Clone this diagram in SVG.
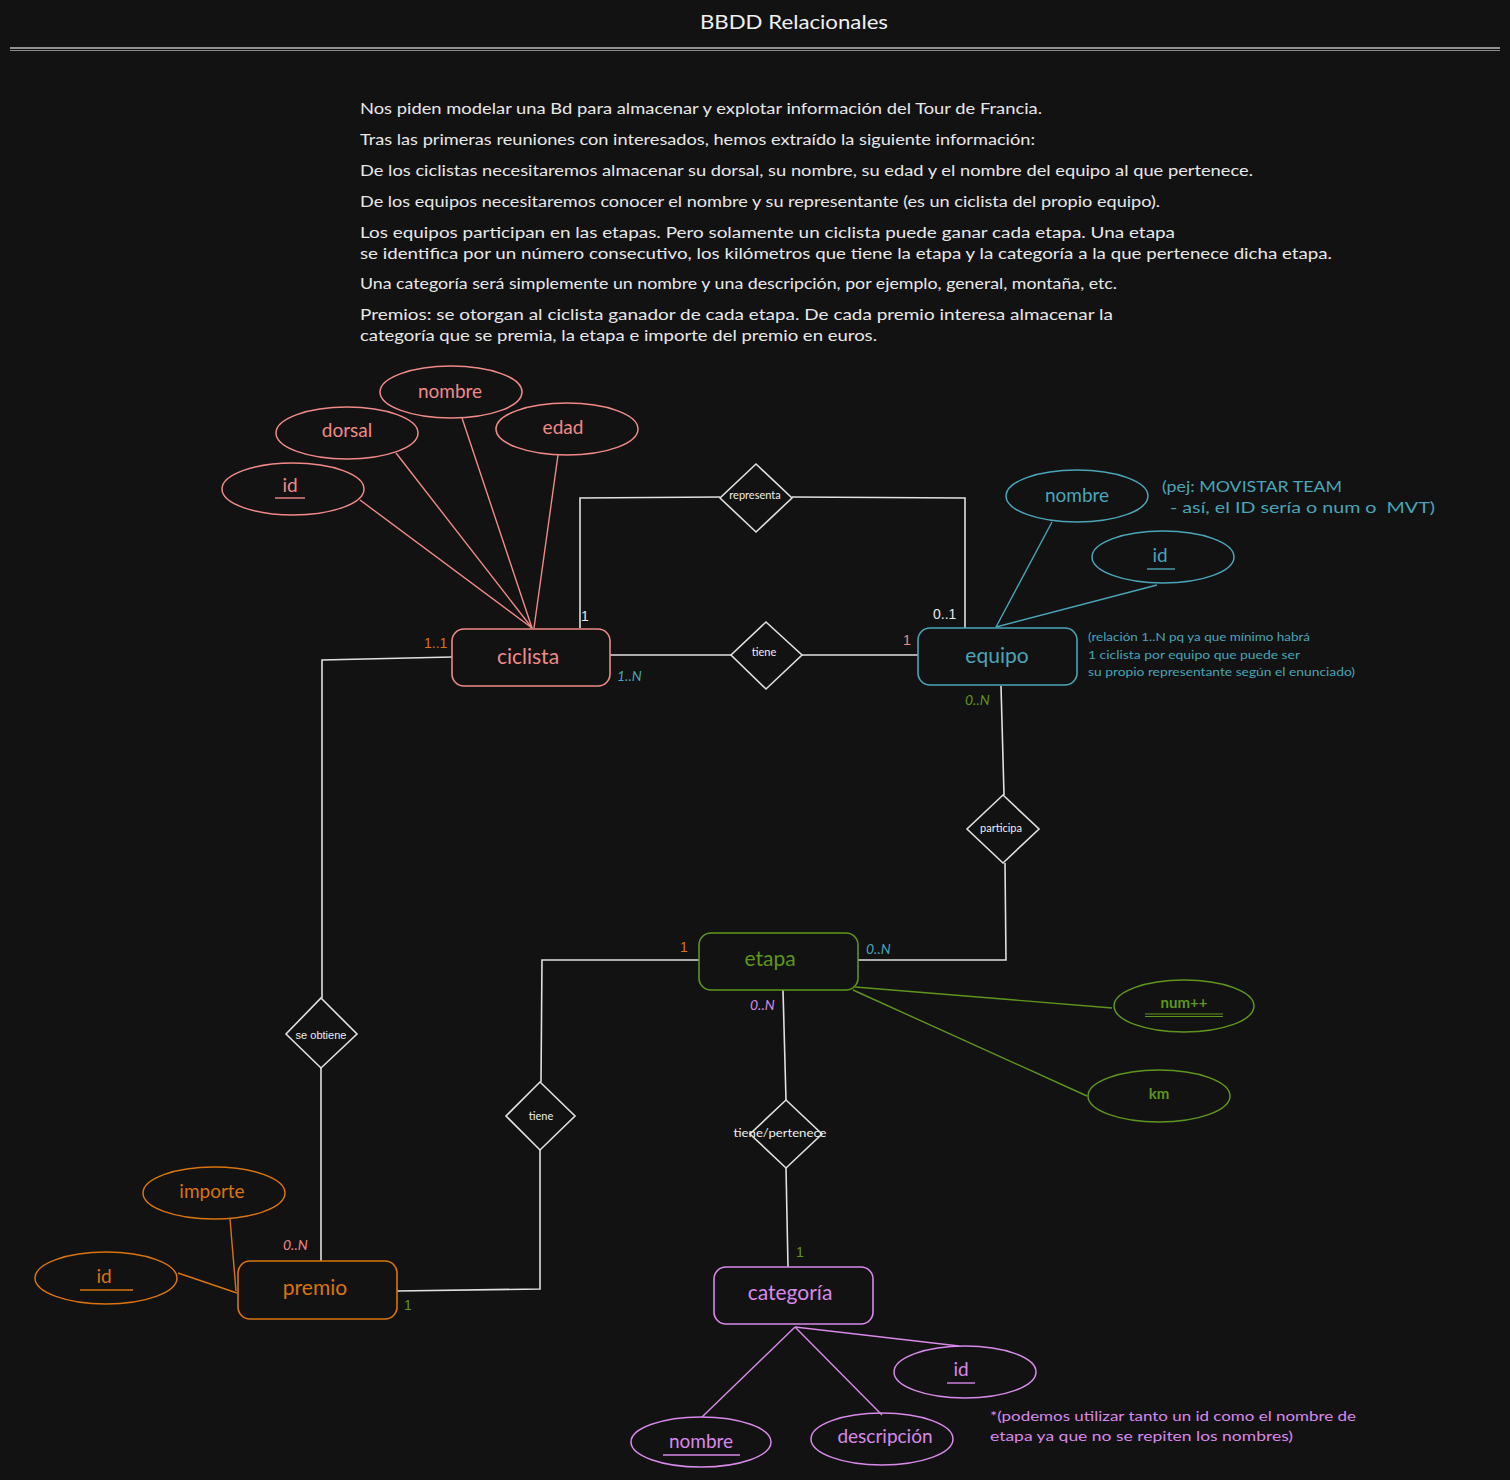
<svg xmlns="http://www.w3.org/2000/svg" width="1510" height="1480" viewBox="0 0 1510 1480">
  <style>
    .hand { font-family: Lato, "Liberation Sans", sans-serif; }
    .plain { font-family: "Liberation Sans", Arial, sans-serif; }
    .desc { font-family: Lato, "Liberation Sans", sans-serif; font-size: 15px; fill: #e8e8e8; }
    .ent { fill: none; stroke-width: 1.6; }
    .attr { fill: none; stroke-width: 1.5; }
    .rel { fill: #121212; stroke: #e0e0e0; stroke-width: 1.6; }
    .rel-t { font-size: 11px; fill: #eeeeee; text-anchor: middle; }
    .ent-t { font-size: 21px; text-anchor: middle; }
    .attr-t { font-size: 19px; text-anchor: middle; }
    .conn { fill: none; stroke: #e0e0e0; stroke-width: 1.6; }
    .card { font-size: 14px; }
    .red { stroke: #f08a87; fill: none; }
    .redf { fill: #f08a87; }
    .teal { stroke: #4aa5b8; fill: none; }
    .tealf { fill: #4aa5b8; }
    .green { stroke: #5e961d; fill: none; }
    .greenf { fill: #5e961d; }
    .orange { stroke: #d97410; fill: none; }
    .orangef { fill: #d97410; }
    .purple { stroke: #d889ea; fill: none; }
    .purplef { fill: #d889ea; }
  </style>

  <rect x="0" y="0" width="1510" height="1480" fill="#121212"/>

  <!-- heading -->
  <g id="title">
    <text class="hand" x="794" y="29" font-size="20" fill="#f0f0f0" text-anchor="middle" textLength="188" lengthAdjust="spacingAndGlyphs">BBDD Relacionales</text>
    <line x1="10" y1="48" x2="1500" y2="48" stroke="#bdbdbd" stroke-width="1.3"/>
    <line x1="10" y1="50.5" x2="1500" y2="50.5" stroke="#8a8a8a" stroke-width="1"/>
  </g>

  <!-- statement of the problem -->
  <g id="enunciado" class="desc">
    <text x="360" y="114" textLength="682" lengthAdjust="spacingAndGlyphs">Nos piden modelar una Bd para almacenar y explotar información del Tour de Francia.</text>
    <text x="360" y="145" textLength="675" lengthAdjust="spacingAndGlyphs">Tras las primeras reuniones con interesados, hemos extraído la siguiente información:</text>
    <text x="360" y="176" textLength="893" lengthAdjust="spacingAndGlyphs">De los ciclistas necesitaremos almacenar su dorsal, su nombre, su edad y el nombre del equipo al que pertenece.</text>
    <text x="360" y="207" textLength="800" lengthAdjust="spacingAndGlyphs">De los equipos necesitaremos conocer el nombre y su representante (es un ciclista del propio equipo).</text>
    <text x="360" y="238" textLength="815" lengthAdjust="spacingAndGlyphs">Los equipos participan en las etapas. Pero solamente un ciclista puede ganar cada etapa. Una etapa</text>
    <text x="360" y="259" textLength="972" lengthAdjust="spacingAndGlyphs">se identifica por un número consecutivo, los kilómetros que tiene la etapa y la categoría a la que pertenece dicha etapa.</text>
    <text x="360" y="289" textLength="757" lengthAdjust="spacingAndGlyphs">Una categoría será simplemente un nombre y una descripción, por ejemplo, general, montaña, etc.</text>
    <text x="360" y="320" textLength="753" lengthAdjust="spacingAndGlyphs">Premios: se otorgan al ciclista ganador de cada etapa. De cada premio interesa almacenar la</text>
    <text x="360" y="341" textLength="517" lengthAdjust="spacingAndGlyphs">categoría que se premia, la etapa e importe del premio en euros.</text>
  </g>

  <!-- relationship connectors -->
  <g id="connectors">
    <!-- ciclista - representa - equipo -->
    <polyline class="conn" points="580,628 580,498 720,497"/>
    <polyline class="conn" points="792,497 965,498 965,628"/>
    <!-- ciclista - tiene - equipo -->
    <line class="conn" x1="610" y1="655" x2="731" y2="655"/>
    <line class="conn" x1="802" y1="655" x2="918" y2="655"/>
    <!-- equipo - participa - etapa -->
    <line class="conn" x1="1001" y1="686" x2="1004" y2="795"/>
    <polyline class="conn" points="1005,863 1006,960 858,960"/>
    <!-- ciclista - se obtiene - premio -->
    <polyline class="conn" points="452,657 322,660 322,998"/>
    <line class="conn" x1="321" y1="1068" x2="321" y2="1261"/>
    <!-- etapa - tiene - premio -->
    <polyline class="conn" points="699,960 542,960 541,1082"/>
    <polyline class="conn" points="540,1150 540,1289 397,1291"/>
    <!-- etapa - tiene/pertenece - categoria -->
    <line class="conn" x1="783" y1="990" x2="786" y2="1100"/>
    <line class="conn" x1="786" y1="1168" x2="788" y2="1267"/>
  </g>

  <!-- cardinalities -->
  <g id="cardinalities">
    <text class="plain card" x="581" y="621" fill="#e8e8e8">1</text>
    <text class="plain card" x="933" y="619" fill="#e8e8e8">0..1</text>
    <text class="plain card redf" x="903" y="645">1</text>
    <text class="plain card orangef" x="424" y="648" font-size="13">1..1</text>
    <text class="hand card tealf" x="617" y="681" font-style="italic">1..N</text>
    <text class="hand card greenf" x="965" y="705" font-style="italic">0..N</text>
    <text class="plain card orangef" x="680" y="952">1</text>
    <text class="hand card tealf" x="866" y="954" font-style="italic">0..N</text>
    <text class="hand card purplef" x="750" y="1010" font-style="italic">0..N</text>
    <text class="hand card redf" x="283" y="1250" font-style="italic">0..N</text>
    <text class="plain card greenf" x="404" y="1310">1</text>
    <text class="plain card greenf" x="796" y="1257">1</text>
  </g>

  <!-- ciclista -->
  <g id="ciclista">
    <line class="red" stroke-width="1.4" x1="532" y1="628" x2="360" y2="500"/>
    <line class="red" stroke-width="1.4" x1="532" y1="628" x2="396" y2="453"/>
    <line class="red" stroke-width="1.4" x1="532" y1="628" x2="462" y2="418"/>
    <line class="red" stroke-width="1.4" x1="534" y1="628" x2="558" y2="455"/>
    <ellipse class="attr red" cx="451" cy="392" rx="71" ry="26"/>
    <text class="hand attr-t redf" x="450" y="398">nombre</text>
    <ellipse class="attr red" cx="347" cy="433" rx="71" ry="26"/>
    <text class="hand attr-t redf" x="347" y="437">dorsal</text>
    <ellipse class="attr red" cx="567" cy="429" rx="71" ry="26"/>
    <text class="hand attr-t redf" x="563" y="434">edad</text>
    <ellipse class="attr red" cx="293" cy="489" rx="71" ry="26"/>
    <text class="hand attr-t redf" x="290" y="492">id</text>
    <line class="red" stroke-width="1.4" x1="275" y1="498" x2="305" y2="498"/>
    <rect class="ent red" x="452" y="629" width="158" height="57" rx="12"/>
    <text class="hand ent-t redf" x="528" y="664">ciclista</text>
  </g>

  <!-- equipo -->
  <g id="equipo">
    <line class="teal" stroke-width="1.4" x1="996" y1="627" x2="1052" y2="522"/>
    <line class="teal" stroke-width="1.4" x1="996" y1="627" x2="1157" y2="585"/>
    <ellipse class="attr teal" cx="1077" cy="496" rx="71" ry="26"/>
    <text class="hand attr-t tealf" x="1077" y="502">nombre</text>
    <ellipse class="attr teal" cx="1163" cy="557" rx="71" ry="26"/>
    <text class="hand attr-t tealf" x="1160" y="562">id</text>
    <line class="teal" stroke-width="1.4" x1="1147" y1="569" x2="1175" y2="569"/>
    <rect class="ent teal" x="918" y="628" width="159" height="57" rx="12"/>
    <text class="hand ent-t tealf" x="997" y="663">equipo</text>
    <text class="hand tealf" x="1162" y="492" font-size="15" textLength="180" lengthAdjust="spacingAndGlyphs">(pej: MOVISTAR TEAM</text>
    <text class="hand tealf" x="1170" y="513" font-size="15" textLength="265" lengthAdjust="spacingAndGlyphs" xml:space="preserve" style="white-space: pre">- así, el ID sería o num o  MVT)</text>
    <text class="hand tealf" x="1088" y="641" font-size="11" textLength="222" lengthAdjust="spacingAndGlyphs">(relación 1..N pq ya que mínimo habrá</text>
    <text class="hand tealf" x="1088" y="659" font-size="11" textLength="212" lengthAdjust="spacingAndGlyphs">1 ciclista por equipo que puede ser</text>
    <text class="hand tealf" x="1088" y="676" font-size="11" textLength="267" lengthAdjust="spacingAndGlyphs">su propio representante según el enunciado)</text>
  </g>

  <!-- etapa -->
  <g id="etapa">
    <line class="green" stroke-width="1.4" x1="855" y1="987" x2="1112" y2="1008"/>
    <line class="green" stroke-width="1.4" x1="853" y1="990" x2="1087" y2="1096"/>
    <ellipse class="attr green" cx="1184" cy="1006" rx="70" ry="26"/>
    <text class="hand greenf" x="1184" y="1008" font-size="15" text-anchor="middle" font-weight="bold">num++</text>
    <line class="green" stroke-width="1.2" x1="1145" y1="1014" x2="1223" y2="1014"/>
    <line class="green" stroke-width="1.2" x1="1145" y1="1016.5" x2="1223" y2="1016.5"/>
    <ellipse class="attr green" cx="1159" cy="1096" rx="71" ry="26"/>
    <text class="hand greenf" x="1159" y="1099" font-size="15" text-anchor="middle" font-weight="bold">km</text>
    <rect class="ent green" x="699" y="933" width="159" height="57" rx="12"/>
    <text class="hand ent-t greenf" x="770" y="966">etapa</text>
  </g>

  <!-- premio -->
  <g id="premio">
    <line class="orange" stroke-width="1.4" x1="230" y1="1219" x2="236" y2="1291"/>
    <line class="orange" stroke-width="1.4" x1="178" y1="1273" x2="237" y2="1293"/>
    <ellipse class="attr orange" cx="214" cy="1193" rx="71" ry="26"/>
    <text class="hand attr-t orangef" x="212" y="1198">importe</text>
    <ellipse class="attr orange" cx="106" cy="1278" rx="71" ry="26"/>
    <text class="hand attr-t orangef" x="104" y="1283">id</text>
    <line class="orange" stroke-width="1.4" x1="80" y1="1290" x2="133" y2="1290"/>
    <rect class="ent orange" x="238" y="1261" width="159" height="58" rx="12"/>
    <text class="hand ent-t orangef" x="315" y="1295">premio</text>
  </g>

  <!-- categoria -->
  <g id="categoria">
    <line class="purple" stroke-width="1.4" x1="795" y1="1327" x2="959" y2="1346"/>
    <line class="purple" stroke-width="1.4" x1="795" y1="1327" x2="702" y2="1417"/>
    <line class="purple" stroke-width="1.4" x1="795" y1="1327" x2="882" y2="1415"/>
    <ellipse class="attr purple" cx="965" cy="1372" rx="71" ry="26"/>
    <text class="hand attr-t purplef" x="961" y="1376">id</text>
    <line class="purple" stroke-width="1.4" x1="947" y1="1383" x2="975" y2="1383"/>
    <ellipse class="attr purple" cx="701" cy="1442" rx="70" ry="25"/>
    <text class="hand attr-t purplef" x="701" y="1448">nombre</text>
    <line class="purple" stroke-width="1.4" x1="663" y1="1455" x2="740" y2="1455"/>
    <ellipse class="attr purple" cx="882" cy="1439" rx="71" ry="26"/>
    <text class="hand attr-t purplef" x="885" y="1443">descripción</text>
    <rect class="ent purple" x="714" y="1267" width="159" height="57" rx="12"/>
    <text class="hand ent-t purplef" x="790" y="1300">categoría</text>
    <text class="hand purplef" x="990" y="1421" font-size="14" textLength="366" lengthAdjust="spacingAndGlyphs">*(podemos utilizar tanto un id como el nombre de</text>
    <text class="hand purplef" x="990" y="1441" font-size="14" textLength="303" lengthAdjust="spacingAndGlyphs">etapa ya que no se repiten los nombres)</text>
  </g>

  <!-- relationships -->
  <g id="rel-representa">
    <polygon class="rel" points="756,464 792,498 756,532 720,498"/>
    <text class="hand rel-t" x="755" y="499">representa</text>
  </g>
  <g id="rel-tiene-ciclista-equipo">
    <polygon class="rel" points="766,622 802,655 766,689 731,655"/>
    <text class="hand rel-t" x="764" y="656">tiene</text>
  </g>
  <g id="rel-participa">
    <polygon class="rel" points="1003,795 1039,829 1003,863 967,829"/>
    <text class="hand rel-t" x="1001" y="832">participa</text>
  </g>
  <g id="rel-se-obtiene">
    <polygon class="rel" points="321,998 357,1034 321,1068 286,1034"/>
    <text class="plain rel-t" x="321" y="1039">se obtiene</text>
  </g>
  <g id="rel-tiene-etapa-premio">
    <polygon class="rel" points="540,1082 575,1116 540,1150 506,1116"/>
    <text class="hand rel-t" x="541" y="1120">tiene</text>
  </g>
  <g id="rel-tiene-pertenece">
    <polygon class="rel" points="786,1100 822,1134 786,1168 750,1134"/>
    <text class="hand rel-t" x="780" y="1137" textLength="93" lengthAdjust="spacingAndGlyphs">tiene/pertenece</text>
  </g>
</svg>
